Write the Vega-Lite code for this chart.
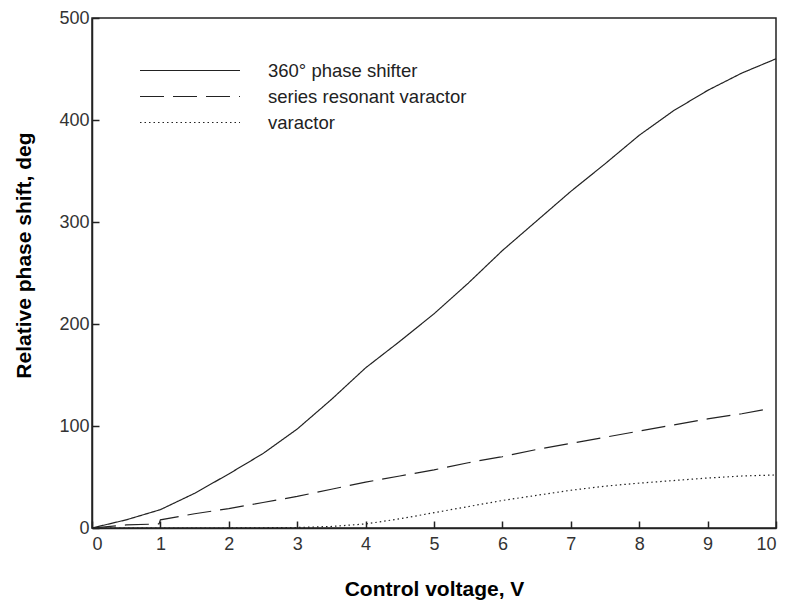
{
  "$schema": "https://vega.github.io/schema/vega-lite/v6.json",
  "autosize": "none",
  "width": 684,
  "height": 510,
  "padding": {"left": 92, "top": 18, "right": 14, "bottom": 79},
  "background": "white",
  "config": {
    "view": {"stroke": "#222", "strokeWidth": 1.5},
    "font": "Liberation Sans",
    "axis": {
      "domainColor": "#222",
      "domainWidth": 1.5,
      "tickColor": "#222",
      "tickWidth": 1.5,
      "grid": false,
      "labelFont": "Liberation Sans",
      "labelFontSize": 18,
      "labelColor": "#333",
      "titleFont": "Liberation Sans",
      "titleFontSize": 21,
      "titleFontWeight": "bold",
      "titleColor": "#000"
    }
  },
  "data": {
    "values": [
      {"V": 0, "phase": 0, "series": "360° phase shifter"},
      {"V": 0.5, "phase": 8, "series": "360° phase shifter"},
      {"V": 1, "phase": 18, "series": "360° phase shifter"},
      {"V": 1.5, "phase": 34, "series": "360° phase shifter"},
      {"V": 2, "phase": 53, "series": "360° phase shifter"},
      {"V": 2.5, "phase": 73, "series": "360° phase shifter"},
      {"V": 3, "phase": 97, "series": "360° phase shifter"},
      {"V": 3.5, "phase": 126, "series": "360° phase shifter"},
      {"V": 4, "phase": 157, "series": "360° phase shifter"},
      {"V": 4.5, "phase": 183, "series": "360° phase shifter"},
      {"V": 5, "phase": 210, "series": "360° phase shifter"},
      {"V": 5.5, "phase": 240, "series": "360° phase shifter"},
      {"V": 6, "phase": 272, "series": "360° phase shifter"},
      {"V": 6.5, "phase": 301, "series": "360° phase shifter"},
      {"V": 7, "phase": 330, "series": "360° phase shifter"},
      {"V": 7.5, "phase": 357, "series": "360° phase shifter"},
      {"V": 8, "phase": 385, "series": "360° phase shifter"},
      {"V": 8.5, "phase": 409, "series": "360° phase shifter"},
      {"V": 9, "phase": 429, "series": "360° phase shifter"},
      {"V": 9.5, "phase": 446, "series": "360° phase shifter"},
      {"V": 10, "phase": 460, "series": "360° phase shifter"},
      {"V": 0, "phase": 0, "series": "series resonant varactor"},
      {"V": 0.5, "phase": 3, "series": "series resonant varactor"},
      {"V": 0.98, "phase": 4, "series": "series resonant varactor"},
      {"V": 1, "phase": 8, "series": "series resonant varactor"},
      {"V": 1.5, "phase": 14, "series": "series resonant varactor"},
      {"V": 2, "phase": 19, "series": "series resonant varactor"},
      {"V": 2.5, "phase": 25, "series": "series resonant varactor"},
      {"V": 3, "phase": 31, "series": "series resonant varactor"},
      {"V": 3.5, "phase": 38, "series": "series resonant varactor"},
      {"V": 4, "phase": 45, "series": "series resonant varactor"},
      {"V": 4.5, "phase": 51, "series": "series resonant varactor"},
      {"V": 5, "phase": 57, "series": "series resonant varactor"},
      {"V": 5.5, "phase": 64, "series": "series resonant varactor"},
      {"V": 6, "phase": 70, "series": "series resonant varactor"},
      {"V": 6.5, "phase": 77, "series": "series resonant varactor"},
      {"V": 7, "phase": 83, "series": "series resonant varactor"},
      {"V": 7.5, "phase": 89, "series": "series resonant varactor"},
      {"V": 8, "phase": 95, "series": "series resonant varactor"},
      {"V": 8.5, "phase": 101, "series": "series resonant varactor"},
      {"V": 9, "phase": 107, "series": "series resonant varactor"},
      {"V": 9.5, "phase": 112, "series": "series resonant varactor"},
      {"V": 9.9, "phase": 117, "series": "series resonant varactor"},
      {"V": 0, "phase": 0, "series": "varactor"},
      {"V": 1, "phase": 0, "series": "varactor"},
      {"V": 2, "phase": 0, "series": "varactor"},
      {"V": 3, "phase": 0.5, "series": "varactor"},
      {"V": 3.5, "phase": 1.5, "series": "varactor"},
      {"V": 4, "phase": 4, "series": "varactor"},
      {"V": 4.5, "phase": 9, "series": "varactor"},
      {"V": 5, "phase": 15, "series": "varactor"},
      {"V": 5.5, "phase": 21, "series": "varactor"},
      {"V": 6, "phase": 27, "series": "varactor"},
      {"V": 6.5, "phase": 32, "series": "varactor"},
      {"V": 7, "phase": 37, "series": "varactor"},
      {"V": 7.5, "phase": 41, "series": "varactor"},
      {"V": 8, "phase": 44, "series": "varactor"},
      {"V": 8.5, "phase": 46.5, "series": "varactor"},
      {"V": 9, "phase": 49, "series": "varactor"},
      {"V": 9.5, "phase": 51, "series": "varactor"},
      {"V": 10, "phase": 52, "series": "varactor"}
    ]
  },
  "mark": {"type": "line", "color": "#222", "strokeWidth": 1.2},
  "encoding": {
    "x": {
      "field": "V", "type": "quantitative",
      "scale": {"domain": [0, 10], "nice": false},
      "axis": {"title": "Control voltage, V", "values": [0,1,2,3,4,5,6,7,8,9,10], "tickSize": -7, "labelPadding": 14, "titlePadding": 25}
    },
    "y": {
      "field": "phase", "type": "quantitative",
      "scale": {"domain": [0, 500], "nice": false},
      "axis": {"title": "Relative phase shift, deg", "values": [0,100,200,300,400,500], "tickSize": -7, "labelPadding": 10, "titlePadding": 24, "titleY": 237}
    },
    "strokeDash": {
      "field": "series", "type": "nominal",
      "scale": {
        "domain": ["360° phase shifter", "series resonant varactor", "varactor"],
        "range": [[1, 0], [24, 9], [1.5, 3]]
      },
      "legend": {
        "title": null,
        "orient": "none",
        "legendX": 84.5,
        "legendY": 39,
        "symbolType": "M-4,0H4",
        "symbolSize": 625,
        "symbolStrokeColor": "#222",
        "symbolStrokeWidth": 1.2,
        "labelFont": "Liberation Sans",
        "labelFontSize": 18.5,
        "labelColor": "#222",
        "labelLimit": 400,
        "labelOffset": 64.5,
        "rowPadding": 3,
        "padding": 0
      }
    }
  }
}
